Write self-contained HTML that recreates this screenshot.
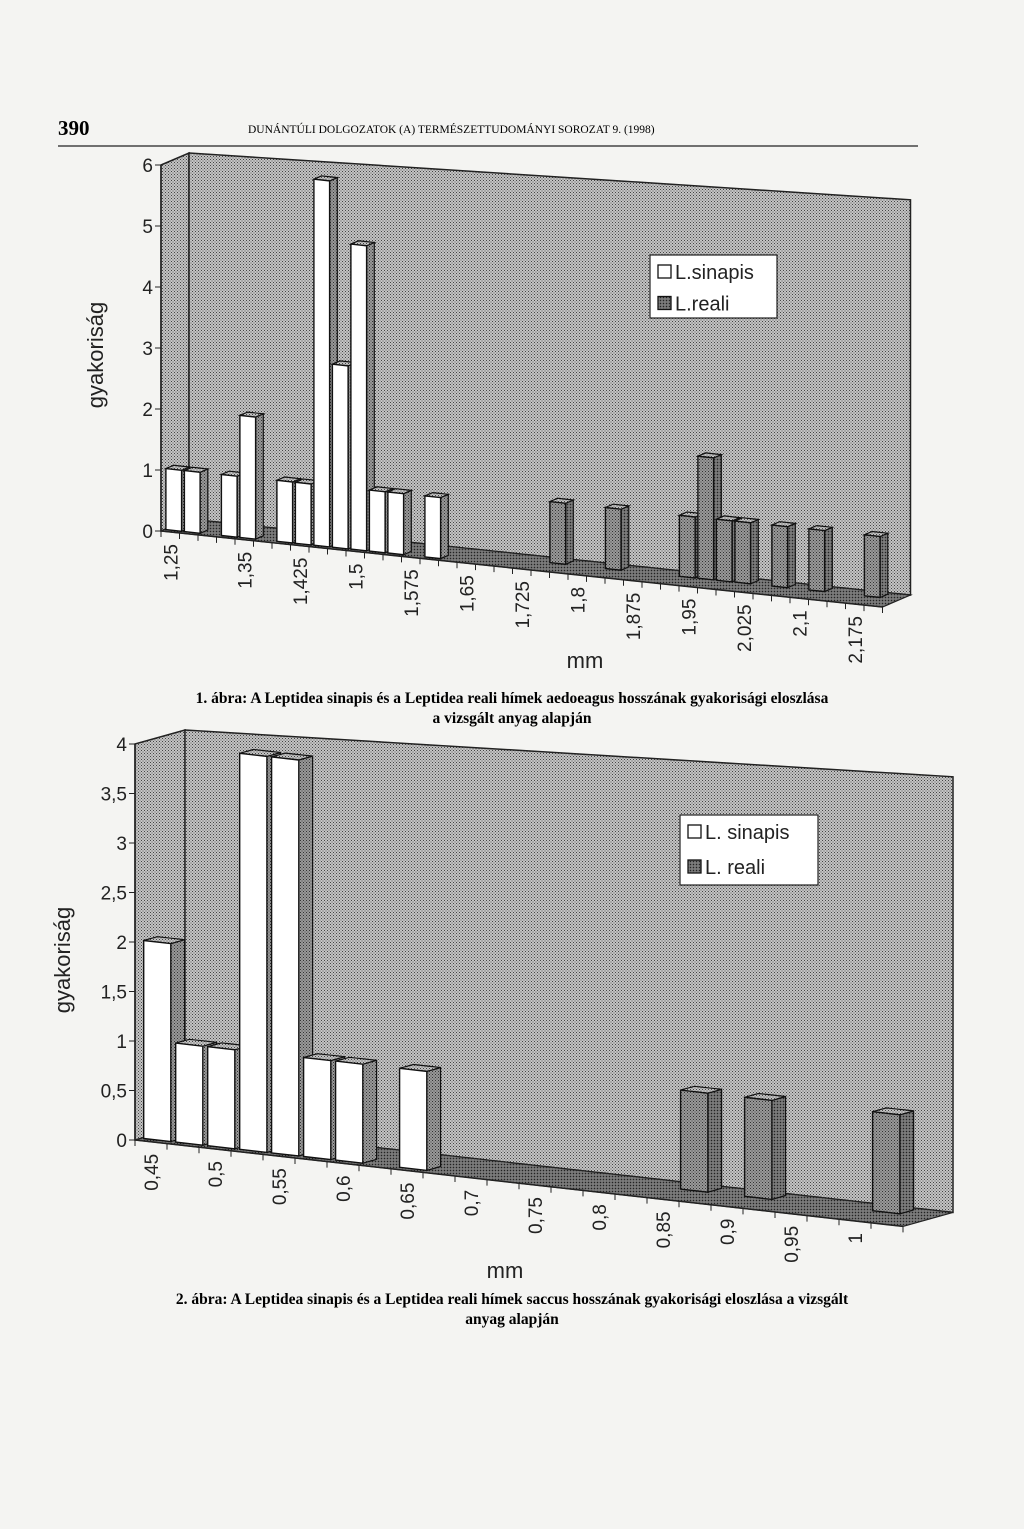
<!DOCTYPE html>
<html><head><meta charset="utf-8"><style>
body{margin:0;background:#f4f4f2;}
svg{display:block}
</style></head><body>
<svg id="page" width="1024" height="1529" viewBox="0 0 1024 1529" xmlns="http://www.w3.org/2000/svg" font-family="Liberation Sans, sans-serif">
<defs>
<pattern id="dots" width="3" height="3" patternUnits="userSpaceOnUse"><rect width="3" height="3" fill="#c4c4c4"/><rect width="1" height="1" fill="#444"/><rect x="1.5" y="1.5" width="1" height="1" fill="#555"/></pattern>
<pattern id="dotsDark" width="3" height="3" patternUnits="userSpaceOnUse"><rect width="3" height="3" fill="#6a6a6a"/><rect width="1" height="1" fill="#222"/><rect x="1.5" y="1.5" width="1" height="1" fill="#aaa"/></pattern>
<pattern id="dotsMid" width="3" height="3" patternUnits="userSpaceOnUse"><rect width="3" height="3" fill="#999"/><rect width="1" height="1" fill="#333"/><rect x="1.5" y="1.5" width="1" height="1" fill="#444"/></pattern>
</defs>
<text x="58" y="135" font-family="Liberation Serif, serif" font-weight="bold" font-size="21">390</text>
<text x="248" y="133" font-family="Liberation Serif, serif" font-size="11.5">DUNÁNTÚLI DOLGOZATOK (A) TERMÉSZETTUDOMÁNYI SOROZAT 9. (1998)</text>
<line x1="58" y1="146" x2="918" y2="146" stroke="#222" stroke-width="1.2"/>
<g id="chart1"></g>
<g id="chart2"></g>
<text x="512" y="703" text-anchor="middle" font-family="Liberation Serif, serif" font-weight="bold" font-size="15.5">1. ábra: A Leptidea sinapis és a Leptidea reali hímek aedoeagus hosszának gyakorisági eloszlása</text>
<text x="512" y="723" text-anchor="middle" font-family="Liberation Serif, serif" font-weight="bold" font-size="15.5">a vizsgált anyag alapján</text>
<text x="512" y="1304" text-anchor="middle" font-family="Liberation Serif, serif" font-weight="bold" font-size="15.5">2. ábra: A Leptidea sinapis és a Leptidea reali hímek saccus hosszának gyakorisági eloszlása a vizsgált</text>
<text x="512" y="1324" text-anchor="middle" font-family="Liberation Serif, serif" font-weight="bold" font-size="15.5">anyag alapján</text>
</svg>
<script>
// ---- Chart 1 data ----
const c1TickLabels = ["1,25","","","","1,35","","","1,425","","","1,5","","","1,575","","","1,65","","","1,725","","","1,8","","","1,875","","","1,95","","","2,025","","","2,1","","","2,175",""];
const c1Sinapis = [1,1,0,1,2,0,1,1,6,3,5,1,1,0,1,0,0,0,0,0,0,0,0,0,0,0,0,0,0,0,0,0,0,0,0,0,0,0,0];
const c1Reali   = [0,0,0,0,0,0,0,0,0,0,0,0,0,0,0,0,0,0,0,0,1,0,0,1,0,0,0,1,2,1,1,0,1,0,1,0,0,1,0];
const c1YTicks = ["0","1","2","3","4","5","6"];
const c1Legend = ["L.sinapis","L.reali"];
// ---- Chart 2 data ----
const c2TickLabels = ["0,45","","0,5","","0,55","","0,6","","0,65","","0,7","","0,75","","0,8","","0,85","","0,9","","0,95","","1",""];
const c2Sinapis = [2,1,1,4,4,1,1,0,1,0,0,0,0,0,0,0,0,0,0,0,0,0,0,0];
const c2Reali   = [0,0,0,0,0,0,0,0,0,0,0,0,0,0,0,0,1,0,1,0,0,0,1,0];
const c2YTicks = ["0","0,5","1","1,5","2","2,5","3","3,5","4"];
const c2Legend = ["L. sinapis","L. reali"];

const NS="http://www.w3.org/2000/svg";
function mk(parent,tag,attrs){const e=document.createElementNS(NS,tag);for(const k in attrs)e.setAttribute(k,attrs[k]);parent.appendChild(e);return e;}
function pts(a){return a.map(p=>p[0].toFixed(1)+","+p[1].toFixed(1)).join(" ");}

function drawChart(g,cfg,labels,series,yTicks,legend){
  const n=labels.length, o=cfg.origin;
  const X=(i,row)=>[o[0]+i*cfg.step+row*cfg.row[0], o[1]+i*cfg.dy+row*cfg.row[1]];
  const Yv=v=>v*cfg.unit;
  const yMaxVal=(yTicks.length-1)*cfg.tickStep;
  const D=[cfg.row[0]*2,cfg.row[1]*2];
  const fr=X(n,0);
  let w=mk(g,'polygon',{points:pts([[o[0],o[1]-Yv(yMaxVal)],[o[0]+D[0],o[1]-Yv(yMaxVal)+D[1]],[o[0]+D[0],o[1]+D[1]],o]),fill:'url(#dots)',stroke:'#222','stroke-width':1.5});
  
  
  let bw=mk(g,'polygon',{points:pts([[o[0]+D[0],o[1]-Yv(yMaxVal)+D[1]],[fr[0]+D[0],fr[1]-Yv(yMaxVal)*cfg.topShrink+D[1]],[fr[0]+D[0],fr[1]+D[1]],[o[0]+D[0],o[1]+D[1]]]),fill:'url(#dots)',stroke:'#222','stroke-width':1.5});
  
  
  let fl=mk(g,'polygon',{points:pts([o,fr,[fr[0]+D[0],fr[1]+D[1]],[o[0]+D[0],o[1]+D[1]]]),fill:'url(#dotsDark)',stroke:'#222','stroke-width':1.2});
  
  
  let ya=mk(g,'line',{x1:o[0],y1:o[1],x2:o[0],y2:o[1]-Yv(yMaxVal),stroke:'#222','stroke-width':1.5});
  
  
  yTicks.forEach((t,k)=>{
    const y=o[1]-Yv(k*cfg.tickStep);
    const tk=mk(g,'line',{x1:o[0]-6,y1:y,x2:o[0],y2:y,stroke:'#222'});
    
    
    const tx=mk(g,'text',{x:o[0]-8,y:y+7,'text-anchor':'end','font-size':cfg.font,fill:'#222'});
    tx.textContent=t;
    
    
  });
  let xa=mk(g,'line',{x1:o[0],y1:o[1],x2:fr[0],y2:fr[1],stroke:'#222','stroke-width':1.5});
  
  
  for(let i=0;i<=n;i++){
    const p=X(i,0);
    const tk=mk(g,'line',{x1:p[0],y1:p[1],x2:p[0],y2:p[1]+6,stroke:'#222'});
    
    
  }
  labels.forEach((l,i)=>{
    if(!l)return;
    const p=X(i+0.5,0);
    const tx=mk(g,'text',{x:0,y:0,'text-anchor':'end','font-size':cfg.font,fill:'#222',transform:`translate(${(p[0]+7).toFixed(1)},${(p[1]+12).toFixed(1)}) rotate(-90)`});
    tx.textContent=l;
    
    
  });
  const fills=['#fff','url(#dotsMid)'];
  for(let s=series.length-1;s>=0;s--){
    const vals=series[s], row=s;
    vals.forEach((v,i)=>{
      if(!v)return;
      const gap=cfg.step*(1-cfg.bw)/2;
      const b=X(i,row+0.25); b[0]+=gap; b[1]+=gap*cfg.dy/cfg.step;
      const wv=cfg.step*cfg.bw, wy=cfg.dy*cfg.bw, h=Yv(v), d=[cfg.row[0]*0.55,cfg.row[1]*0.55];
      const bl=b, br=[b[0]+wv,b[1]+wy], tl=[b[0],b[1]-h], tr=[br[0],br[1]-h];
      const bar=mk(g,'g',{});
      
      
      mk(bar,'polygon',{points:pts([br,tr,[tr[0]+d[0],tr[1]+d[1]],[br[0]+d[0],br[1]+d[1]]]),fill:s===0?'url(#dotsMid)':'url(#dotsDark)',stroke:'#111','stroke-width':1.2});
      mk(bar,'polygon',{points:pts([tl,tr,[tr[0]+d[0],tr[1]+d[1]],[tl[0]+d[0],tl[1]+d[1]]]),fill:'url(#dots)',stroke:'#111','stroke-width':1.2});
      mk(bar,'polygon',{points:pts([bl,br,tr,tl]),fill:fills[s],stroke:'#111','stroke-width':1.4});
    });
  }
  const L=cfg.legend;
  const lg=mk(g,'g',{});
  
  
  mk(lg,'rect',{x:L[0],y:L[1],width:L[2],height:L[3],fill:'#fff',stroke:'#222','stroke-width':1.2});
  legend.forEach((t,k)=>{
    const y=L[1]+8+k*L[3]/2;
    const ent=mk(lg,'g',{});
    
    
    mk(ent,'rect',{x:L[0]+8,y:y+2,width:13,height:13,fill:k===0?'#fff':'url(#dotsDark)',stroke:'#111','stroke-width':1.3});
    const tx=mk(ent,'text',{x:L[0]+25,y:y+16,'font-size':20,fill:'#222'});
    tx.textContent=t;
  });
  const yt=mk(g,'text',{x:0,y:0,'text-anchor':'middle','font-size':22,fill:'#222',transform:`translate(${cfg.ytitle[0]},${cfg.ytitle[1]}) rotate(-90)`});
  yt.textContent='gyakoriság';
  
  
  const xt=mk(g,'text',{x:cfg.xtitle[0],y:cfg.xtitle[1],'text-anchor':'middle','font-size':22,fill:'#222'});
  xt.textContent='mm';
  
  
}

drawChart(document.getElementById('chart1'),
 {origin:[161,531],step:18.5,dy:1.95,row:[14,-6],unit:61,tickStep:1,bw:0.85,font:19,topShrink:1.08,legend:[650,255,127,63],ytitle:[103,355],xtitle:[585,668]},
 c1TickLabels,[c1Sinapis,c1Reali],c1YTicks,c1Legend);
drawChart(document.getElementById('chart2'),
 {origin:[135,1140],step:32,dy:3.6,row:[25,-7],unit:99,tickStep:0.5,bw:0.85,font:19,topShrink:1.1,legend:[680,815,138,70],ytitle:[70,960],xtitle:[505,1278]},
 c2TickLabels,[c2Sinapis,c2Reali],c2YTicks,c2Legend);
</script>
</body></html>
